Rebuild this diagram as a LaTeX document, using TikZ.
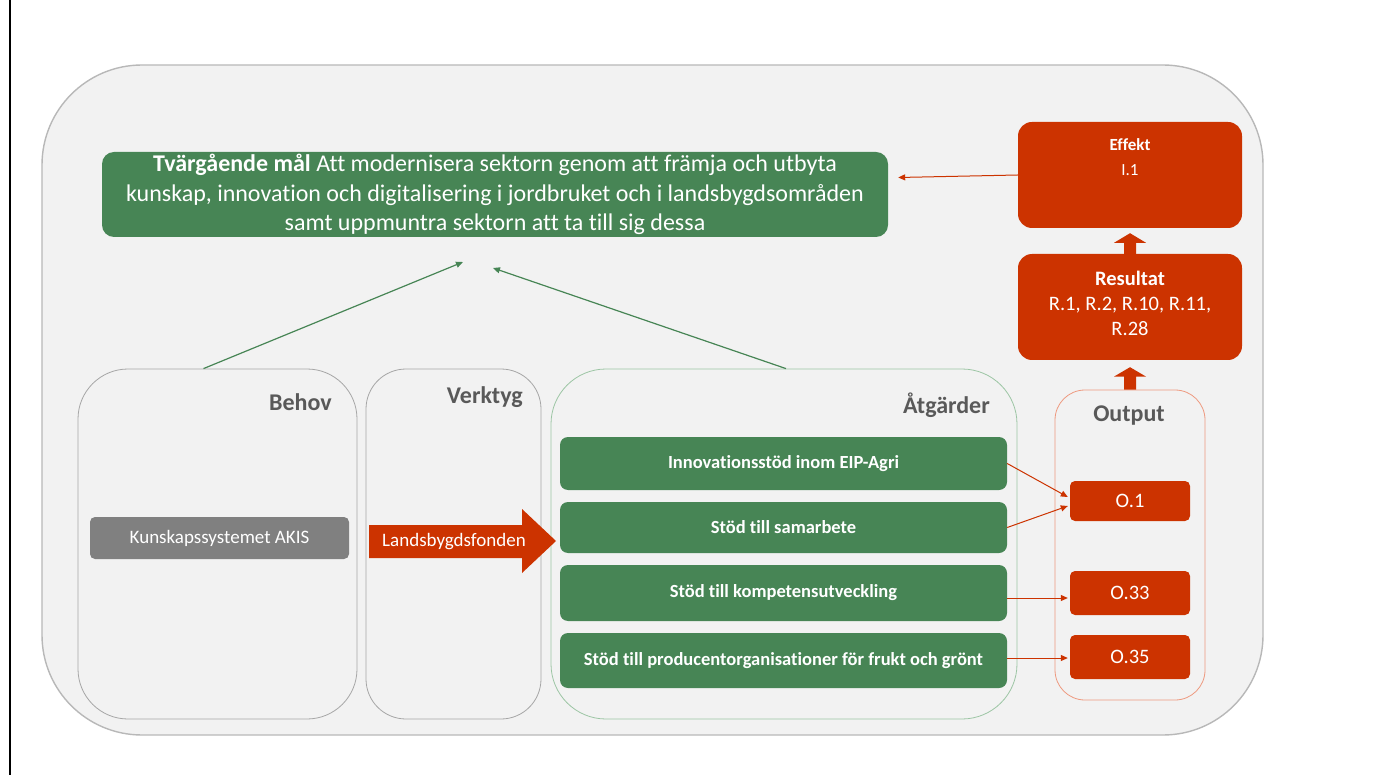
\documentclass[tikz,border=0pt]{standalone}
\usepackage{fontspec}
\setmainfont{Carlito}[Ligatures=NoCommon]
\usetikzlibrary{arrows.meta,calc}
\definecolor{grn}{HTML}{478555}
\definecolor{rd}{HTML}{CC3300}
\definecolor{bgc}{HTML}{F2F2F2}
\definecolor{lbl}{HTML}{595959}
\definecolor{grayline}{HTML}{A6A6A6}
\definecolor{lgrn}{HTML}{9CC5A4}
\definecolor{lrd}{HTML}{EE9A80}
\definecolor{akis}{HTML}{808080}
\begin{document}
\begin{tikzpicture}[x=1pt,y=-1pt,
  outerbox/.style={draw=grayline!80,line width=1.4pt,fill=bgc,rounded corners=100pt,inner sep=0},
  container/.style={draw=grayline,line width=0.8pt,fill=bgc,inner sep=0},
  grnbox/.style={fill=grn,text=white,rounded corners=8pt,inner sep=0,font=\fontsize{18.5}{22}\selectfont\bfseries},
  rdbox/.style={fill=rd,text=white,rounded corners=14pt,inner sep=0,align=center},
  obox/.style={fill=rd,text=white,rounded corners=5pt,inner sep=0,minimum width=120pt,font=\fontsize{20.5}{24}\selectfont},
  hdr/.style={text=lbl,font=\fontsize{24}{28}\selectfont\bfseries,inner sep=0},
  rarrow/.style={draw=rd,line width=1pt,-{Triangle[length=7pt,width=6pt]}},
  garrow/.style={draw=grn,line width=1.2pt,-{Triangle[length=7pt,width=6pt]}}
]
\useasboundingbox (0,0) rectangle (1373,775);
\fill[white] (0,0) rectangle (1373,775);
\draw[black,line width=2pt] (10,0) coordinate (bl1) -- (10,775) coordinate (bl2);

% outer container
\node[outerbox,minimum width=1221pt,minimum height=670pt] (outer) at (652.5,400) {};

% top goal box
\node[fill=grn,text=white,rounded corners=12pt,minimum width=786pt,minimum height=85pt,inner sep=0,align=center,font=\fontsize{24}{29.5}\selectfont] (goal) at (495,194.5)
 {\textbf{Tvärgående mål} Att modernisera sektorn genom att främja och utbyta\\kunskap, innovation och digitalisering i jordbruket och i landsbygdsområden\\samt uppmuntra sektorn att ta till sig dessa};

% Effekt / Resultat
\node[rdbox,minimum width=224pt,minimum height=106pt] (eff) at (1130,175) {};
\node[text=white,font=\fontsize{17}{20}\selectfont\bfseries,inner sep=0] (efft) at (1130,145) {Effekt};
\node[text=white,font=\fontsize{17}{20}\selectfont,inner sep=0] (effv) at (1130,170) {I.1};
\node[rdbox,minimum width=224pt,minimum height=106pt] (res) at (1130,307) {};
\node[text=white,font=\fontsize{20.5}{24}\selectfont\bfseries,inner sep=0] (rest) at (1130,278) {Resultat};
\node[text=white,font=\fontsize{20.5}{25}\selectfont,inner sep=0,align=center] (resv) at (1130,316) {R.1, R.2, R.10, R.11,\\R.28};

% containers
\node[container,rounded corners=50pt,minimum width=279pt,minimum height=350pt] (behov) at (217.5,544) {};
\node[container,rounded corners=40pt,minimum width=175pt,minimum height=350pt] (verk) at (453.5,544) {};
\node[container,draw=lgrn,rounded corners=55pt,minimum width=466pt,minimum height=350pt] (atg) at (784,544) {};
\node[container,draw=lrd,rounded corners=30pt,minimum width=150pt,minimum height=310pt] (outp) at (1130,545) {};

\node[hdr,anchor=east] (behovl) at (332,402) {Behov};
\node[hdr,anchor=east] (verkl) at (523,397) {Verktyg};
\node[hdr,anchor=east] (atgl) at (990,405) {Åtgärder};
\node[hdr] (outpl) at (1129,416) {Output};

% block arrows
\fill[rd] ($(res.north)+(-6,0)$) -- ($(res.north)+(-6,-11)$) -- ($(res.north)+(-16,-11)$) -- ($(eff.south)+(0,5)$) -- ($(res.north)+(16,-11)$) -- ($(res.north)+(6,-11)$) -- ($(res.north)+(6,0)$) -- cycle;
\fill[rd] ($(outp.north)+(-6,0)$) -- ($(outp.north)+(-6,-13)$) -- ($(outp.north)+(-16,-13)$) -- ($(res.south)+(0,7)$) -- ($(outp.north)+(16,-13)$) -- ($(outp.north)+(6,-13)$) -- ($(outp.north)+(6,0)$) -- cycle;

% AKIS
\node[fill=akis,text=white,rounded corners=5pt,minimum width=259pt,minimum height=42pt,inner sep=0,font=\fontsize{19}{22}\selectfont] (akisn) at (219.5,538) {Kunskapssystemet AKIS};

% Landsbygdsfonden arrow
\fill[rd] (369,525) -- (522,525) -- (522,509) -- (556,541) -- (522,573) -- (522,558) -- (369,558) -- cycle;
\node[text=white,inner sep=0,font=\fontsize{19}{22}\selectfont] (lbf) at (454,542) {Landsbygdsfonden};

% measures
\node[grnbox,minimum width=447pt,minimum height=53pt] (m1) at (783.5,463.5) {Innovationsstöd inom EIP-Agri};
\node[grnbox,minimum width=447pt,minimum height=51pt] (m2) at (783.5,527.5) {Stöd till samarbete};
\node[grnbox,minimum width=447pt,minimum height=56pt] (m3) at (783.5,593) {Stöd till kompetensutveckling};
\node[grnbox,minimum width=447pt,minimum height=55pt] (m4) at (783.5,660.5) {Stöd till producentorganisationer för frukt och grönt};

% outputs
\node[obox,minimum height=40pt] (o1) at (1130,501) {O.1};
\node[obox,minimum height=44pt] (o33) at (1130,593) {O.33};
\node[obox,minimum height=44pt] (o35) at (1130,657) {O.35};

% connectors
\draw[rarrow] (m1.east) -- ($(o1.west)+(-2,-4)$);
\draw[rarrow] (m2.east) -- ($(o1.west)+(-2,5)$);
\draw[rarrow] (m3.east |- 0,598) -- ($(o33.west |- 0,598)+(-2,0)$);
\draw[rarrow] (m4.east |- 0,658) -- ($(o35.west |- 0,658)+(-2,0)$);
\draw[rarrow] (eff.west) -- ($(goal.east)+(10,-17)$);

\coordinate (g1) at (463,262);
\coordinate (g2) at (493,268);
\draw[garrow] ($(behov.north)+(-14,0)$) -- (g1);
\draw[garrow] ($(atg.north)+(2,0)$) -- (g2);
\end{tikzpicture}
\end{document}
